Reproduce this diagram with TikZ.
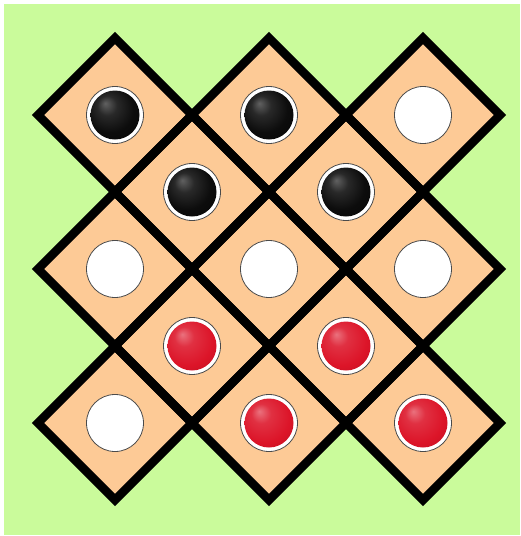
\documentclass[tikz,border=0pt]{standalone}
\usepackage{tikz}
\definecolor{boardGreen}{HTML}{CAFB9B}
\definecolor{cellPeach}{HTML}{FDCA96}
\definecolor{holeRim}{HTML}{4A4A4A}
\definecolor{stoneRed}{HTML}{DC1428}
\pgfdeclareradialshading{blackball}{\pgfpoint{-10bp}{12bp}}{%
  color(0bp)=(black!62); color(10bp)=(black!84); color(24bp)=(black!95);
  color(50bp)=(black)}
\pgfdeclareradialshading{redball}{\pgfpoint{-10bp}{12bp}}{%
  color(0bp)=(stoneRed!60!white); color(10bp)=(stoneRed!88!white);
  color(26bp)=(stoneRed); color(50bp)=(stoneRed!75!black)}
\tikzset{
  cell/.style={fill=cellPeach},
  cell edge/.style={draw=black, line width=8.5pt, line join=miter},
  hole/.style={circle, draw=holeRim, fill=white, line width=0.8pt,
    minimum size=57pt, inner sep=0pt},
  black stone/.style={circle, shading=blackball, minimum size=49pt,
    inner sep=0pt},
  red stone/.style={circle, shading=redball, minimum size=49pt,
    inner sep=0pt}
}

\begin{document}
\begin{tikzpicture}[x=1pt, y=-1pt]
  \useasboundingbox (0,0) rectangle (520,536);
  \fill[boardGreen] (4,4) rectangle (520,535);
  % cells of the board
  \foreach \i/\j in {0/0,2/0,4/0,1/1,3/1,0/2,2/2,4/2,1/3,3/3,0/4,2/4,4/4}
    \coordinate (c-\i-\j) at (115+77*\i, 115+77*\j);
  \foreach \i/\j in {0/0,2/0,4/0,1/1,3/1,0/2,2/2,4/2,1/3,3/3,0/4,2/4,4/4}
    \fill[cell] (c-\i-\j) ++(0,-77) -- ++(77,77) -- ++(-77,77) -- ++(-77,-77) -- cycle;
  \foreach \i/\j in {0/0,2/0,4/0,1/1,3/1,0/2,2/2,4/2,1/3,3/3,0/4,2/4,4/4}
    \draw[cell edge] (c-\i-\j) ++(0,-77) -- ++(77,77) -- ++(-77,77) -- ++(-77,-77) -- cycle;
  % holes and stones
  \foreach \i/\j in {0/0,2/0,4/0,1/1,3/1,0/2,2/2,4/2,1/3,3/3,0/4,2/4,4/4}
    \node[hole] (hole-\i-\j) at (c-\i-\j) {};
  \foreach \i/\j/\piece in {0/0/black,2/0/black,1/1/black,3/1/black,
      1/3/red,3/3/red,2/4/red,4/4/red}
    \node[\piece\space stone] (stone-\i-\j) at (hole-\i-\j) {};
\end{tikzpicture}
\end{document}
